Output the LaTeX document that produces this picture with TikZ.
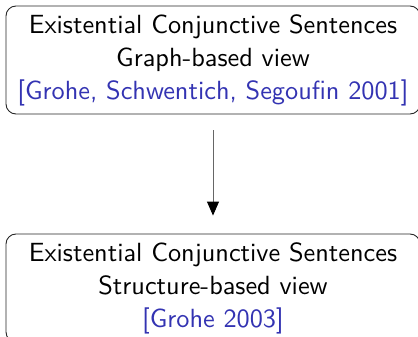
\documentclass[tikz,border=0pt]{standalone}
\usepackage{fontspec}
\usetikzlibrary{arrows.meta}
\newfontfamily\boxfont{lmsans10-regular.otf}
\definecolor{citeblue}{rgb}{0.2,0.2,0.7}
\begin{document}
\begin{tikzpicture}[x=1pt,y=-1pt,
  viewbox/.style={draw=black!85, line width=0.9pt, rounded corners=10pt,
    minimum width=414pt, minimum height=108pt, inner sep=0pt,
    align=center, font=\boxfont\fontsize{26.3}{33}\selectfont},
  flow/.style={draw=black!60, line width=0.9pt,
    -{Triangle[length=14pt,width=12pt,fill=black,color=black]}}]
\useasboundingbox (0,0) rectangle (418,337);
\node[viewbox] (graph) at (213,60)
  {Existential Conjunctive Sentences\\ Graph-based view\\ {\color{citeblue}[Grohe, Schwentich, Segoufin 2001]}};
\node[viewbox] (struct) at (213,288)
  {Existential Conjunctive Sentences\\ Structure-based view\\ {\color{citeblue}[Grohe 2003]}};
\draw[flow, shorten <=16pt, shorten >=18pt] (graph.south) -- (struct.north);
\end{tikzpicture}
\end{document}
